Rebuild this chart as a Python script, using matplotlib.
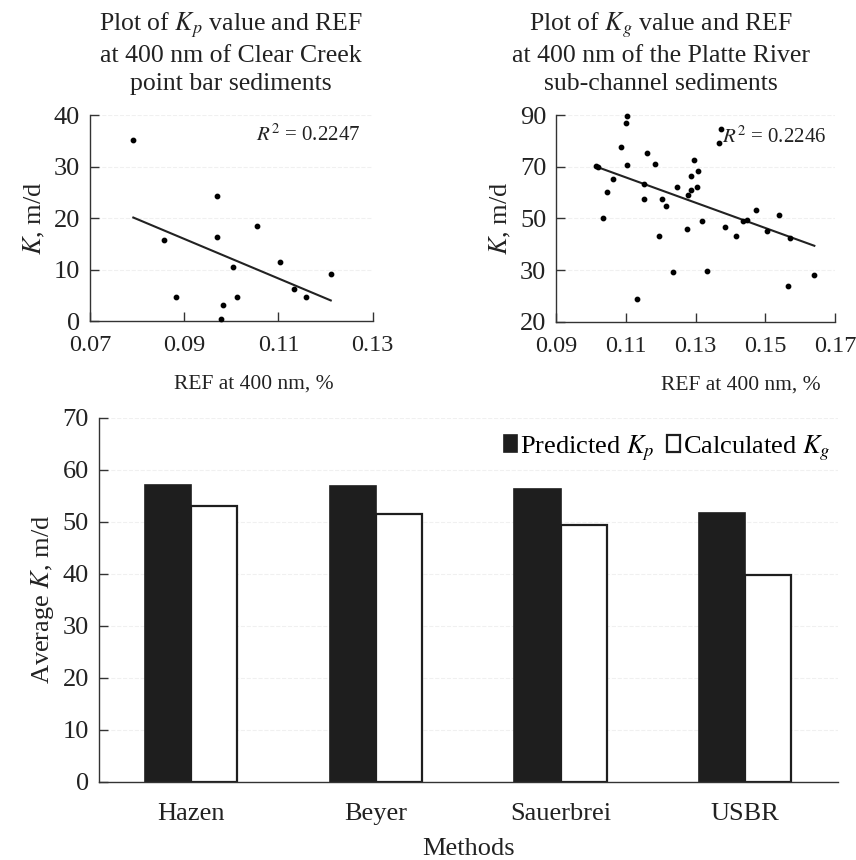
import matplotlib.pyplot as plt

plt.rcParams['font.family'] = ['Liberation Serif', 'DejaVu Serif']
plt.rcParams['mathtext.fontset'] = 'stix'

# Clear Creek point bar: REF at 400 nm vs K_p
cc_ref = [0.0792, 0.0858, 0.0882, 0.0970, 0.0970, 0.1004, 0.0983, 0.1013,
          0.0979, 0.1054, 0.1103, 0.1132, 0.1159, 0.1211]
cc_k = [35.1, 15.7, 4.7, 24.2, 16.4, 10.5, 3.2, 4.7, 0.45, 18.4, 11.5, 6.3, 4.6, 9.1]
cc_trend_x = [0.0792, 0.1211]
cc_trend_y = [20.1, 4.0]
cc_r2 = '0.2247'

# Platte River sub-channel: REF at 400 nm vs K_g
pr_ref = [0.1016, 0.1019, 0.1036, 0.1045, 0.1062, 0.1085, 0.1100, 0.1104, 0.1103,
          0.1131, 0.1152, 0.1151, 0.1160, 0.1185, 0.1194, 0.1203, 0.1215, 0.1235,
          0.1247, 0.1274, 0.1278, 0.1288, 0.1287, 0.1296, 0.1304, 0.1308, 0.1317,
          0.1334, 0.1367, 0.1372, 0.1385, 0.1417, 0.1437, 0.1448, 0.1473, 0.1503,
          0.1540, 0.1570, 0.1565, 0.1640]
pr_k = [70.2, 69.8, 50.2, 60.4, 65.2, 77.7, 87.1, 89.7, 70.7,
        18.9, 63.3, 57.4, 75.4, 71.0, 43.3, 57.4, 54.9, 29.3,
        62.3, 45.9, 59.0, 60.8, 66.3, 72.7, 62.0, 68.2, 49.0,
        29.7, 79.3, 84.8, 46.7, 43.2, 48.8, 49.4, 53.1, 45.3,
        51.4, 42.3, 23.9, 28.0]
pr_trend_x = [0.1016, 0.1640]
pr_trend_y = [70.0, 39.4]
pr_r2 = '0.2246'

# average K by method
methods = ['Hazen', 'Beyer', 'Sauerbrei', 'USBR']
predicted_kp = [57.0, 56.8, 56.2, 51.7]
calculated_kg = [53.0, 51.4, 49.3, 39.7]

cc_xticks = [0.07, 0.09, 0.11, 0.13]
cc_yticks = [0, 10, 20, 30, 40]
pr_xticks = [0.09, 0.11, 0.13, 0.15, 0.17]
pr_yticks = [10, 30, 50, 70, 90]
pr_yticklabels = ['20', '30', '50', '70', '90']

ink = '#222222'
fs = 19

fig = plt.figure(figsize=(8.56, 8.6), dpi=100)


def style(ax):
    for s in ['top', 'right']:
        ax.spines[s].set_visible(False)
    for s in ['left', 'bottom']:
        ax.spines[s].set_color('#333333')
        ax.spines[s].set_linewidth(1.0)
    ax.tick_params(direction='in', length=6.5, width=1, colors='#333333',
                   labelcolor=ink, labelsize=fs)
    ax.yaxis.grid(True, color='#f0f0f0', linestyle='--', linewidth=0.8)
    ax.set_axisbelow(True)


# left scatter
ax1 = fig.add_axes([0.1051, 0.6267, 0.3303, 0.2395])
style(ax1)
ax1.scatter(cc_ref, cc_k, s=10, color='black', zorder=3, clip_on=False)
ax1.plot(cc_trend_x, cc_trend_y, color=ink, lw=1.5)
ax1.set_xlim(0.07, 0.13)
ax1.set_ylim(0, 40)
ax1.set_xticks(cc_xticks)
ax1.set_xticklabels(['%.2f' % v for v in cc_xticks])
ax1.set_yticks(cc_yticks)
ax1.tick_params(axis='x', pad=10, labelsize=17.5)
ax1.tick_params(axis='y', pad=7)
ax1.set_ylabel('$K$, m/d', fontsize=fs, color=ink, labelpad=5)
ax1.set_xlabel('REF at 400 nm, %', fontsize=15.5, color=ink)
ax1.xaxis.set_label_coords(0.58, -0.26)
ax1.text(0.955, 0.905, '$R^2$ = ' + cc_r2, transform=ax1.transAxes,
         ha='right', va='center', fontsize=15, color=ink)

# right scatter
ax2 = fig.add_axes([0.6495, 0.6259, 0.3263, 0.2403])
style(ax2)
ax2.scatter(pr_ref, pr_k, s=10, color='black', zorder=3, clip_on=False)
ax2.plot(pr_trend_x, pr_trend_y, color=ink, lw=1.5)
ax2.set_xlim(0.09, 0.17)
ax2.set_ylim(10, 90)
ax2.set_xticks(pr_xticks)
ax2.set_xticklabels(['%.2f' % v for v in pr_xticks])
ax2.set_yticks(pr_yticks)
ax2.set_yticklabels(pr_yticklabels)
ax2.tick_params(axis='x', pad=10, labelsize=17.5)
ax2.tick_params(axis='y', pad=7)
ax2.set_ylabel('$K$, m/d', fontsize=fs, color=ink, labelpad=5)
ax2.set_xlabel('REF at 400 nm, %', fontsize=15.5, color=ink)
ax2.xaxis.set_label_coords(0.66, -0.26)
ax2.text(0.967, 0.895, '$R^2$ = ' + pr_r2, transform=ax2.transAxes,
         ha='right', va='center', fontsize=15, color=ink)

# titles
fig.text(0.27, 0.988, 'Plot of $K_p$ value and REF\nat 400 nm of Clear Creek\npoint bar sediments',
         ha='center', va='top', fontsize=18.5, color=ink, linespacing=1.32)
fig.text(0.772, 0.988, 'Plot of $K_g$ value and REF\nat 400 nm of the Platte River\nsub-channel sediments',
         ha='center', va='top', fontsize=18.5, color=ink, linespacing=1.32)

# bar chart
ax3 = fig.add_axes([0.1153, 0.0910, 0.8633, 0.4233])
style(ax3)
pos = list(range(len(methods)))
w = 0.25
ax3.bar([p - w / 2 for p in pos], predicted_kp, width=w, color='#1e1e1e',
        edgecolor='#1e1e1e', lw=1.2, label='Predicted $K_p$')
ax3.bar([p + w / 2 for p in pos], calculated_kg, width=w, color='white',
        edgecolor='#1e1e1e', lw=1.6, label='Calculated $K_g$')
ax3.set_xlim(-0.5, 3.5)
ax3.set_ylim(0, 70)
ax3.set_yticks(range(0, 71, 10))
ax3.set_xticks(pos)
ax3.set_xticklabels(methods)
ax3.tick_params(axis='x', length=0, pad=15)
ax3.tick_params(axis='y', pad=7)
ax3.set_ylabel('Average $K$, m/d', fontsize=fs, color=ink, labelpad=5)
ax3.set_xlabel('Methods', fontsize=fs, color=ink, labelpad=10)
ax3.legend(loc='center right', bbox_to_anchor=(1.005, 0.917), ncol=2, frameon=False,
           fontsize=fs, handlelength=0.5, handleheight=0.6, handletextpad=0.12,
           columnspacing=0.45, borderaxespad=0)

fig.savefig('out.png', dpi=100)
